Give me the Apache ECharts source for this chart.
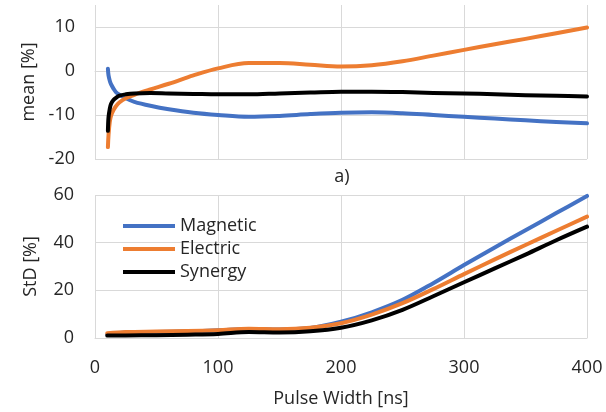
<!DOCTYPE html>
<html>
<head>
<meta charset="utf-8">
<script src="https://cdn.jsdelivr.net/npm/echarts@6/dist/echarts.min.js"></script>
<style>
  html, body { margin: 0; padding: 0; background: #fff; }
  #chart { width: 606px; height: 412px; }
</style>
</head>
<body>
<div id="chart"></div>
<script>
// Pulse widths [ns] sampled for the mean error panel
const meanX = [10.5, 11, 12, 13, 15, 17, 20, 25, 32, 45, 60, 80, 100, 125, 150, 175, 200, 225, 250, 275, 300, 325, 350, 375, 400];
const meanMagnetic = [0.5, -1.0, -2.2, -3.0, -4.0, -4.8, -5.4, -6.2, -7.0, -7.9, -8.7, -9.5, -10.0, -10.4, -10.2, -9.8, -9.5, -9.4, -9.6, -10.0, -10.4, -10.8, -11.2, -11.6, -11.9];
const meanElectric = [-17.3, -14.5, -11.6, -10.2, -8.9, -8.0, -7.1, -6.2, -5.4, -4.2, -2.9, -1.0, 0.6, 1.8, 1.8, 1.4, 1.0, 1.3, 2.2, 3.5, 4.8, 6.1, 7.3, 8.6, 9.9];
const meanSynergy = [-13.6, -10.5, -8.6, -7.5, -6.6, -6.1, -5.6, -5.3, -5.1, -5.0, -5.1, -5.2, -5.3, -5.3, -5.1, -4.9, -4.7, -4.7, -4.8, -5.0, -5.1, -5.3, -5.5, -5.6, -5.8];

// Pulse widths [ns] sampled for the standard deviation panel
const stdX = [10, 25, 50, 75, 100, 125, 150, 175, 200, 225, 250, 275, 300, 325, 350, 375, 400];
const stdMagnetic = [1.5, 2.3, 2.5, 2.8, 3.2, 3.8, 3.6, 4.2, 6.8, 10.8, 16.0, 23.0, 30.6, 38.0, 45.2, 52.4, 59.6];
const stdElectric = [2.0, 2.5, 2.7, 2.9, 3.3, 3.9, 3.7, 4.3, 6.2, 9.8, 14.6, 20.5, 26.8, 33.0, 39.0, 45.0, 50.9];
const stdSynergy = [1.0, 1.1, 1.2, 1.4, 1.7, 2.5, 2.3, 2.8, 4.3, 7.4, 11.8, 17.5, 23.4, 29.2, 35.0, 41.0, 46.7];

const seriesNames = ['Magnetic', 'Electric', 'Synergy'];
const seriesColors = ['#4472C4', '#ED7D31', '#000000'];

const FONT = 'Open Sans';
const FS = 18;
const TEXT = '#262626';
const GRID = '#D9D9D9';

const pair = (xs, ys) => xs.map((x, i) => [x, ys[i]]);

function line(name, color, xs, ys, gi) {
  return {
    name: name,
    type: 'line',
    xAxisIndex: gi,
    yAxisIndex: gi,
    data: pair(xs, ys),
    smooth: 0.35,
    showSymbol: false,
    symbol: 'none',
    color: color,
    lineStyle: { width: 4, color: color, cap: 'round', join: 'round' },
    emphasis: { disabled: true },
    animation: false
  };
}

const xBase = {
  type: 'value', min: 0, max: 400, interval: 100,
  axisLine: { show: true, lineStyle: { color: GRID, width: 1 } },
  axisTick: { show: false },
  splitLine: { show: true, lineStyle: { color: GRID, width: 1 } }
};

const chart = echarts.init(document.getElementById('chart'), null, { renderer: 'canvas' });
chart.setOption({
  animation: false,
  backgroundColor: '#fff',
  textStyle: { fontFamily: FONT },
  title: {
    text: 'a)', left: 337, top: 163, textAlign: 'center',
    textStyle: { fontFamily: FONT, fontSize: FS, fontWeight: 'normal', color: TEXT }
  },
  legend: {
    data: seriesNames,
    orient: 'vertical',
    left: 118, top: 212,
    itemWidth: 52, itemHeight: 4, itemGap: 5,
    icon: 'rect',
    textStyle: { fontFamily: FONT, fontSize: FS, color: TEXT }
  },
  grid: [
    { left: 95, right: 19, top: 5, height: 154, containLabel: false },
    { left: 95, right: 19, top: 195, height: 143, containLabel: false }
  ],
  xAxis: [
    Object.assign({}, xBase, { gridIndex: 0, axisLabel: { show: false } }),
    Object.assign({}, xBase, {
      gridIndex: 1,
      name: 'Pulse Width [ns]', nameLocation: 'middle', nameGap: 52,
      nameTextStyle: { fontFamily: FONT, fontSize: FS, color: TEXT },
      axisLabel: { fontFamily: FONT, fontSize: FS, color: TEXT, margin: 21 }
    })
  ],
  yAxis: [
    {
      gridIndex: 0, type: 'value', min: -20, max: 15, interval: 10,
      name: 'mean [%]', nameLocation: 'middle', nameGap: 46,
      nameTextStyle: { fontFamily: FONT, fontSize: FS, color: TEXT },
      axisLine: { show: false }, axisTick: { show: false },
      axisLabel: { fontFamily: FONT, fontSize: FS, color: TEXT, margin: 20, showMaxLabel: false },
      splitLine: { show: true, showMaxLine: false, lineStyle: { color: GRID, width: 1 } }
    },
    {
      gridIndex: 1, type: 'value', min: 0, max: 60, interval: 20,
      name: 'StD [%]', nameLocation: 'middle', nameGap: 55,
      nameTextStyle: { fontFamily: FONT, fontSize: FS, color: TEXT },
      axisLine: { show: false }, axisTick: { show: false },
      axisLabel: { fontFamily: FONT, fontSize: FS, color: TEXT, margin: 21 },
      splitLine: { show: true, lineStyle: { color: GRID, width: 1 } }
    }
  ],
  series: [
    line(seriesNames[0], seriesColors[0], meanX, meanMagnetic, 0),
    line(seriesNames[1], seriesColors[1], meanX, meanElectric, 0),
    line(seriesNames[2], seriesColors[2], meanX, meanSynergy, 0),
    line(seriesNames[0], seriesColors[0], stdX, stdMagnetic, 1),
    line(seriesNames[1], seriesColors[1], stdX, stdElectric, 1),
    line(seriesNames[2], seriesColors[2], stdX, stdSynergy, 1)
  ]
});
</script>
</body>
</html>
